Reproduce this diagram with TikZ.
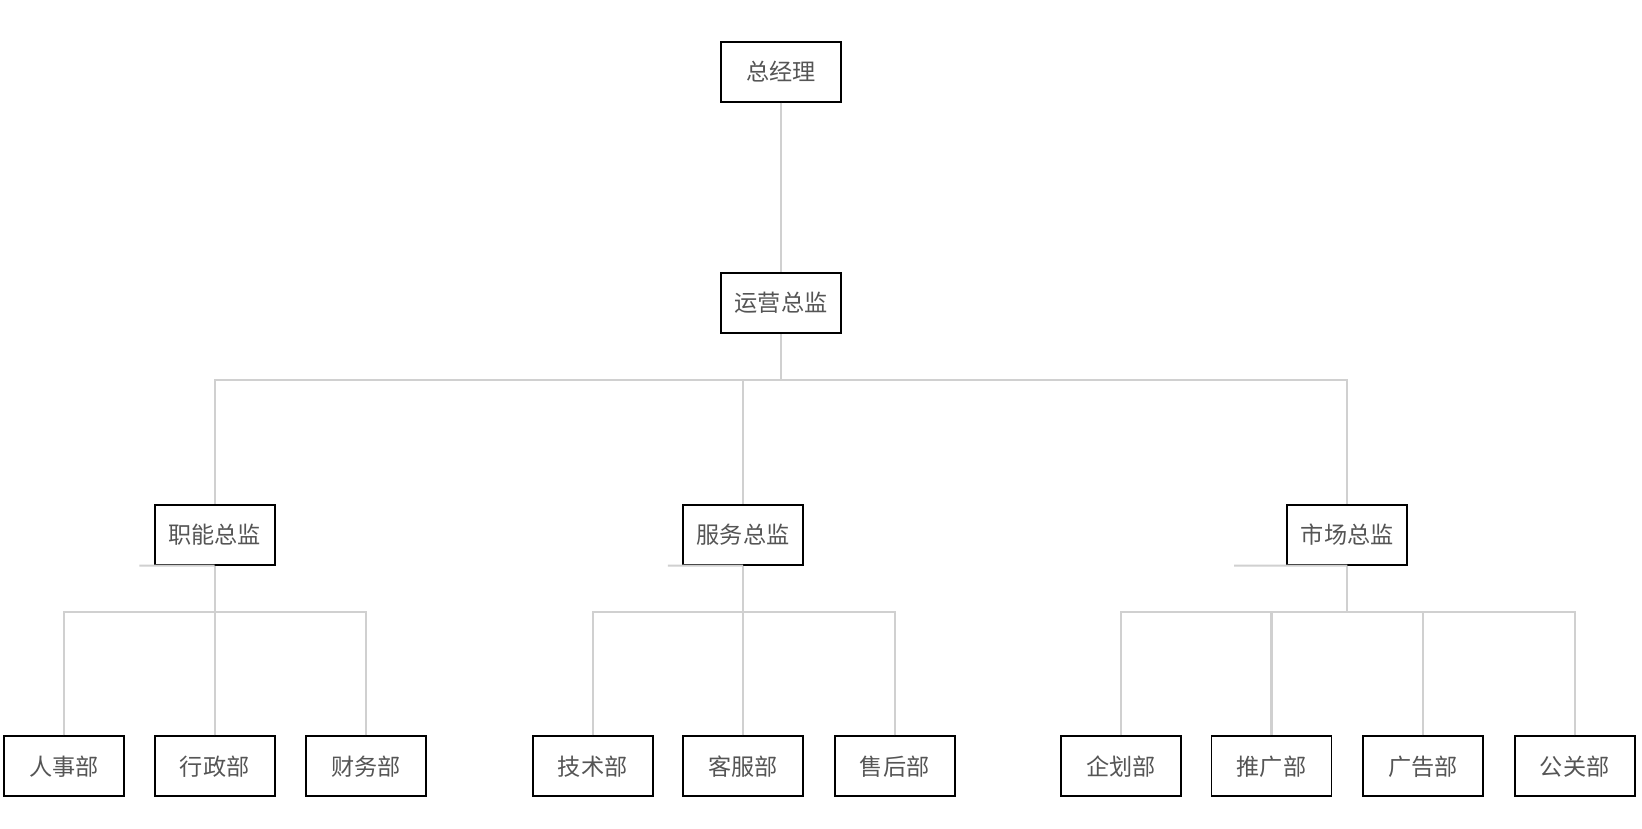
\documentclass[tikz,border=0pt]{standalone}
\usepackage{fontspec}
\newfontfamily\cjk{Noto Sans CJK SC}
\usetikzlibrary{calc}
\definecolor{linkgray}{RGB}{208,208,208}
\definecolor{textgray}{RGB}{85,85,85}

\begin{document}
\begin{tikzpicture}[x=0.5pt,y=-0.5pt,
	box/.style={rectangle, draw=black, line width=0.9pt, fill=white, minimum width=57pt, minimum height=28.5pt, inner sep=0, font=\cjk\fontsize{11}{13}\selectfont, text=textgray},
	link/.style={draw=linkgray, line width=1pt}]

		\useasboundingbox (0,0) rectangle (1560,787);
		%top
		\node[box] at (742,68) (gm) {总经理};
		\node[box] at (742,288) (ops) {运营总监};
		%directors
		\node[box] at (204,508) (d1) {职能总监};
		\node[box] at (706,508) (d2) {服务总监};
		\node[box] at (1280,508) (d3) {市场总监};
		%departments
		\node[box] at (61,728) (p11) {人事部};
		\node[box] at (204,728) (p12) {行政部};
		\node[box] at (348,728) (p13) {财务部};
		\node[box] at (563,728) (p21) {技术部};
		\node[box] at (706,728) (p22) {客服部};
		\node[box] at (850,728) (p23) {售后部};
		\node[box] at (1065,728) (p31) {企划部};
		\node[box] at (1208,728) (p32) {推广部};
		\node[box] at (1352,728) (p33) {广告部};
		\node[box] at (1496,728) (p34) {公关部};

		\draw[link] (gm.south) -- (ops.north);
		\draw[link] (ops.south) -- ++(0,-44pt/2*2/2) coordinate (bus0);
		\foreach \i in {1,2,3} {
			\draw[link] (d\i.north) |- (bus0);
		}
		\foreach \i/\n in {1/3,2/3,3/4} {
			\draw[link] (d\i.south) -- ($(d\i.south)!0.5!(p\i1.north |- d\i.south)$) coordinate (bus\i) -- ++(0,0);
			\foreach \j in {1,...,\n} {
				\draw[link] (p\i\j.north) |- ([yshift=-22pt]d\i.south);
			}
			\draw[link] (d\i.south) -- ++(0,-22pt);
		}
	\end{tikzpicture}
\end{document}
